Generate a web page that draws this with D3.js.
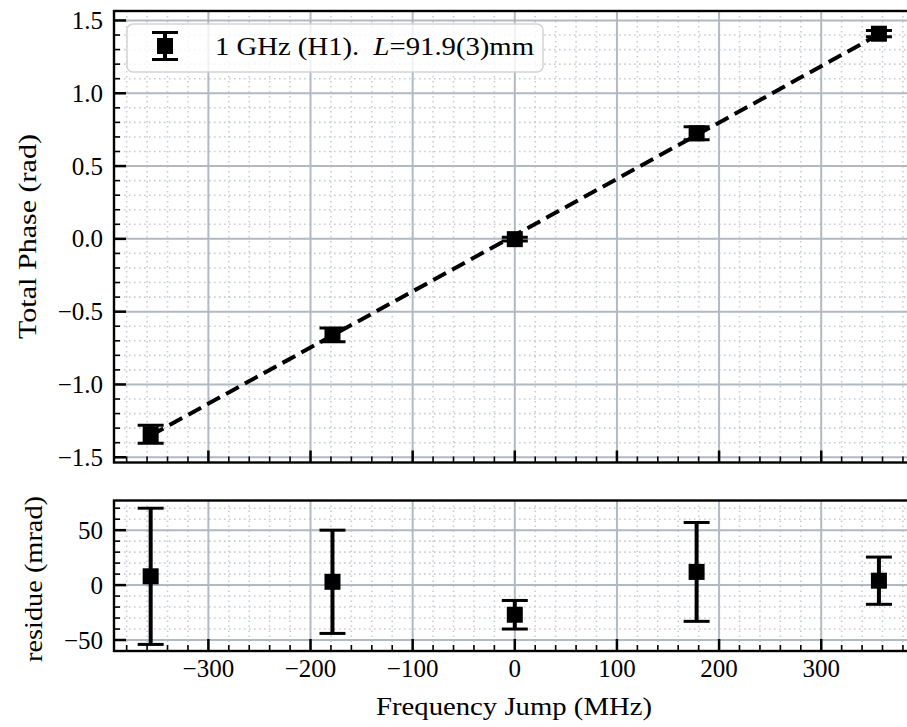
<!DOCTYPE html>
<html>
<head>
<meta charset="utf-8">
<script src="https://cdn.jsdelivr.net/npm/d3@7"></script>
<style>
  html, body { margin: 0; padding: 0; background: #fff; overflow: hidden; }
  svg { display: block; }
</style>
</head>
<body>
<svg id="chart" width="907" height="727"></svg>
<script>
// ---- data ----
const freqJump   = [-356.5, -178.5, 0, 178, 356.5];       // MHz
const totalPhase = [-1.342, -0.660, -0.002, 0.725, 1.409]; // rad
const phaseErr   = [0.062, 0.047, 0.013, 0.045, 0.0215];   // rad
const fitPhase   = [-1.350, -0.663, 0.025, 0.713, 1.405];  // rad, fitted line
const residue    = [8, 3, -27, 12, 4];                     // mrad
const residueErr = [62, 47, 13, 45, 21.5];                 // mrad

const xTicks      = [-300, -200, -100, 0, 100, 200, 300];
const topYTicks   = [-1.5, -1.0, -0.5, 0.0, 0.5, 1.0, 1.5];
const botYTicks   = [-50, 0, 50];
const legendLabel = ["1 GHz (H1).  ", "L", "=91.9(3)mm"];
const xLabel = "Frequency Jump (MHz)";
const topYLabel = "Total Phase (rad)";
const botYLabel = "residue (mrad)";

const FONT = "'Liberation Serif', 'Times New Roman', Tinos, 'DejaVu Serif', 'Noto Serif', serif";

// ---- layout ----
const svg = d3.select("#chart").attr("font-family", FONT);
const left = 114, right = 915.6;
const top1 = 11, bot1 = 462.5;
const top2 = 500.5, bot2 = 651;

const x = d3.scaleLinear().domain([-392.4, 392.4]).range([left, right]);
const y1 = d3.scaleLinear().domain([-1.536, 1.565]).range([bot1, top1]);
const y2 = d3.scaleLinear().domain([-60, 77]).range([bot2, top2]);

const fmtMinus = s => s.replace("-", "\u2212");
const majorGrid = "#b2b9c2", minorGrid = "#c6cdd6";

function range(a, b, step) { return d3.range(Math.round(a / step), Math.round(b / step) + 1).map(i => +(i * step).toFixed(6)); }

const xMinor = range(-380, 380, 20).filter(v => !xTicks.includes(v));

function panel(y, yTop, yBot, yTicks, yMinorStep, showXLabels, yFmt) {
  const g = svg.append("g");
  const clipId = "clip" + Math.round(yTop);
  svg.append("clipPath").attr("id", clipId).append("rect")
    .attr("x", left).attr("y", yTop).attr("width", right - left).attr("height", yBot - yTop);
  const grid = g.append("g").attr("clip-path", `url(#${clipId})`);
  const [d0, d1] = y.domain();
  const yMinor = range(Math.ceil(d0 / yMinorStep) * yMinorStep, Math.floor(d1 / yMinorStep) * yMinorStep, yMinorStep)
    .filter(v => !yTicks.some(t => Math.abs(t - v) < 1e-9));
  grid.selectAll(".mgx").data(xMinor).join("line")
    .attr("x1", d => x(d)).attr("x2", d => x(d)).attr("y1", yTop).attr("y2", yBot)
    .attr("stroke", minorGrid).attr("stroke-width", 1.6).attr("stroke-dasharray", "1.6,3.4");
  grid.selectAll(".mgy").data(yMinor).join("line")
    .attr("y1", d => y(d)).attr("y2", d => y(d)).attr("x1", left).attr("x2", right)
    .attr("stroke", minorGrid).attr("stroke-width", 1.6).attr("stroke-dasharray", "1.6,3.4");
  grid.selectAll(".Mgx").data(xTicks).join("line")
    .attr("x1", d => x(d)).attr("x2", d => x(d)).attr("y1", yTop).attr("y2", yBot)
    .attr("stroke", majorGrid).attr("stroke-width", 2);
  grid.selectAll(".Mgy").data(yTicks).join("line")
    .attr("y1", d => y(d)).attr("y2", d => y(d)).attr("x1", left).attr("x2", right)
    .attr("stroke", majorGrid).attr("stroke-width", 2);

  const tk = g.append("g");
  tk.selectAll(".tx").data(xTicks).join("line")
    .attr("x1", d => x(d)).attr("x2", d => x(d)).attr("y1", yBot).attr("y2", yBot - 12)
    .attr("stroke", "#000").attr("stroke-width", 2.5);
  tk.selectAll(".tmx").data(xMinor).join("line")
    .attr("x1", d => x(d)).attr("x2", d => x(d)).attr("y1", yBot).attr("y2", yBot - 6)
    .attr("stroke", "#000").attr("stroke-width", 1.6);
  tk.selectAll(".ty").data(yTicks).join("line")
    .attr("y1", d => y(d)).attr("y2", d => y(d)).attr("x1", left).attr("x2", left + 12)
    .attr("stroke", "#000").attr("stroke-width", 2.5);
  tk.selectAll(".tmy").data(yMinor).join("line")
    .attr("y1", d => y(d)).attr("y2", d => y(d)).attr("x1", left).attr("x2", left + 6)
    .attr("stroke", "#000").attr("stroke-width", 1.6);

  g.append("rect").attr("x", left).attr("y", yTop).attr("width", right - left).attr("height", yBot - yTop)
    .attr("fill", "none").attr("stroke", "#000").attr("stroke-width", 2.4);

  g.selectAll(".yl").data(yTicks).join("text")
    .attr("x", left - 11).attr("y", d => y(d)).attr("dy", "0.34em")
    .attr("text-anchor", "end").attr("font-size", 25).attr("font-family", FONT)
    .text(d => fmtMinus(yFmt(d)));
  if (showXLabels) {
    g.selectAll(".xl").data(xTicks).join("text")
      .attr("x", d => x(d)).attr("y", yBot + 26)
      .attr("text-anchor", "middle").attr("font-size", 25).attr("font-family", FONT)
      .text(d => fmtMinus(d3.format("d")(d)));
  }
  return grid;
}

function errorbars(g, y, vals, errs) {
  const eb = g.append("g");
  const capW = 13;
  freqJump.forEach((f, i) => {
    const cx = x(f), yl = y(vals[i] - errs[i]), yh = y(vals[i] + errs[i]);
    eb.append("line").attr("x1", cx).attr("x2", cx).attr("y1", yl).attr("y2", yh)
      .attr("stroke", "#000").attr("stroke-width", 4);
    [yl, yh].forEach(yy => eb.append("line").attr("x1", cx - capW).attr("x2", cx + capW)
      .attr("y1", yy).attr("y2", yy).attr("stroke", "#000").attr("stroke-width", 3));
  });
  eb.selectAll(".mk").data(freqJump).join("rect")
    .attr("x", d => x(d) - 8).attr("y", (d, i) => y(vals[i]) - 8)
    .attr("width", 16).attr("height", 16).attr("fill", "#000");
}

const g1 = panel(y1, top1, bot1, topYTicks, 0.1, false, d3.format(".1f"));
const fitLine = d3.line().x(d => x(d[0])).y(d => y1(d[1]));
g1.append("path").datum(freqJump.map((f, i) => [f, fitPhase[i]]))
  .attr("d", fitLine).attr("fill", "none").attr("stroke", "#000")
  .attr("stroke-width", 4).attr("stroke-dasharray", "14.5,7");
errorbars(g1, y1, totalPhase, phaseErr);

const g2 = panel(y2, top2, bot2, botYTicks, 10, true, d3.format("d"));
errorbars(g2, y2, residue, residueErr);

const lg = svg.append("g");
lg.append("rect").attr("x", 127).attr("y", 24).attr("width", 416).attr("height", 48)
  .attr("rx", 6).attr("fill", "rgba(255,255,255,0.8)").attr("stroke", "#d3d3d3").attr("stroke-width", 1.5);
const lx = 165, ly = 46;
lg.append("line").attr("x1", lx).attr("x2", lx).attr("y1", ly - 13.5).attr("y2", ly + 13.5)
  .attr("stroke", "#000").attr("stroke-width", 4);
[ly - 13.5, ly + 13.5].forEach(yy => lg.append("line").attr("x1", lx - 13).attr("x2", lx + 13)
  .attr("y1", yy).attr("y2", yy).attr("stroke", "#000").attr("stroke-width", 3));
lg.append("rect").attr("x", lx - 8).attr("y", ly - 8).attr("width", 16).attr("height", 16).attr("fill", "#000");
const lt = lg.append("text").attr("x", 215).attr("y", 55).attr("font-size", 25.5).attr("font-family", FONT)
  .style("white-space", "pre").attr("textLength", 319).attr("lengthAdjust", "spacingAndGlyphs");
lt.append("tspan").text(legendLabel[0]);
lt.append("tspan").attr("font-style", "italic").text(legendLabel[1]);
lt.append("tspan").text(legendLabel[2]);

svg.append("text").attr("x", 514).attr("y", 715).attr("text-anchor", "middle")
  .attr("font-size", 26).attr("font-family", FONT)
  .attr("textLength", 276).attr("lengthAdjust", "spacingAndGlyphs").text(xLabel);
svg.append("text").attr("transform", `translate(36,236.5) rotate(-90)`)
  .attr("text-anchor", "middle").attr("font-size", 26).attr("font-family", FONT)
  .attr("textLength", 205).attr("lengthAdjust", "spacingAndGlyphs").text(topYLabel);
svg.append("text").attr("transform", `translate(41.5,579) rotate(-90)`)
  .attr("text-anchor", "middle").attr("font-size", 26).attr("font-family", FONT)
  .attr("textLength", 166).attr("lengthAdjust", "spacingAndGlyphs").text(botYLabel);
</script>
</body>
</html>
